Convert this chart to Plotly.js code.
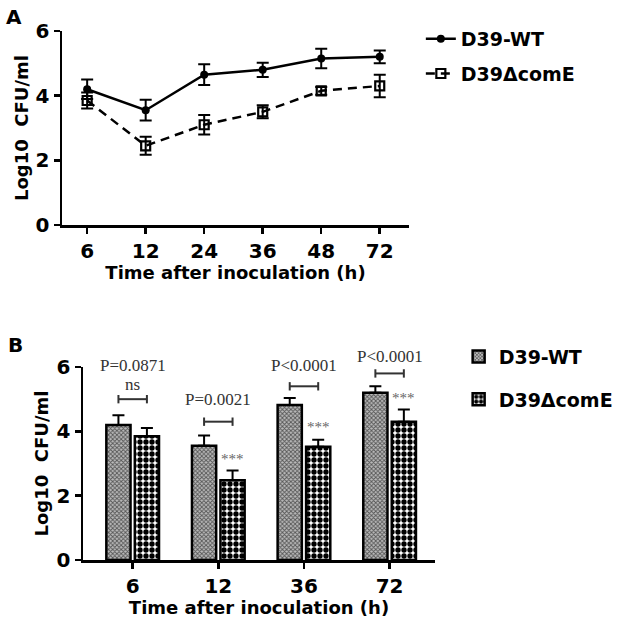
<!DOCTYPE html>
<html><head><meta charset="utf-8">
<script src="https://cdn.plot.ly/plotly-3.0.1.min.js"></script>
<style>html,body{margin:0;padding:0;background:#fff;}</style>
</head><body>
<div id="chart" style="width:630px;height:623px;"></div>
<script>
// Panel A data
const timesA = ["6", "12", "24", "36", "48", "72"];
const wtA = [4.2, 3.55, 4.65, 4.8, 5.15, 5.2];
const wtAerr = [0.3, 0.32, 0.32, 0.22, 0.3, 0.2];
const koA = [3.85, 2.45, 3.1, 3.5, 4.15, 4.3];
const koAerr = [0.25, 0.28, 0.3, 0.2, 0.12, 0.35];
// Panel B data
const timesB = ["6", "12", "36", "72"];
const wtB = [4.2, 3.55, 4.82, 5.2];
const wtBerr = [0.3, 0.32, 0.22, 0.2];
const koB = [3.85, 2.48, 3.52, 4.3];
const koBerr = [0.25, 0.3, 0.22, 0.38];
const pLabels = ["P=0.0871", "P=0.0021", "P<0.0001", "P<0.0001"];
const sigLabels = ["ns", "***", "***", "***"];
const bracketY = [5.0, 4.3, 5.4, 5.8];
const pLabelY = [6.05, 5.0, 6.05, 6.32];
const nsLabelY = 5.45;
const starsY = [null, 3.15, 4.12, 5.05];
const names = ["D39-WT", "D39ΔcomE"];
const yMax = 6;

const boldFam = "DejaVu Sans, Arial, sans-serif";
const bold = {family: boldFam, size: 20, color: "#000", weight: "bold"};
const serif = {family: "Liberation Serif, Times New Roman, serif", size: 17, color: "#333", weight: "normal"};

const BARGAP = 0.335, GROUPGAP = 0.15;
const half = (1 - BARGAP) / 4; // offset of bar centers from category

const traces = [
  {x: timesA, y: wtA, name: names[0], type: "scatter", mode: "lines+markers",
   xaxis: "x", yaxis: "y", legend: "legend", legendgroup: "a1",
   line: {color: "#000", width: 2.5},
   marker: {symbol: "circle", size: 8, color: "#000"},
   error_y: {type: "data", array: wtAerr, color: "#000", thickness: 2, width: 6}},
  {x: timesA, y: koA, name: names[1], type: "scatter", mode: "lines+markers",
   xaxis: "x", yaxis: "y", legend: "legend", legendgroup: "a2",
   line: {color: "#000", width: 2.5, dash: "9px,6px"},
   marker: {symbol: "square-open", size: 9, color: "#000", line: {width: 2.2, color: "#000"}},
   error_y: {type: "data", array: koAerr, color: "#000", thickness: 2, width: 6}},
  {x: timesB, y: wtB, name: names[0], type: "bar",
   xaxis: "x2", yaxis: "y2", legend: "legend2", legendgroup: "b1",
   marker: {color: "#8a8a8a", line: {color: "#000", width: 2.5},
            pattern: {shape: "x", size: 3, solidity: 0.5, fgcolor: "#555", bgcolor: "#bbb", fillmode: "replace"}},
   error_y: {type: "data", array: wtBerr, arrayminus: [0,0,0,0], color: "#000", thickness: 2, width: 6}},
  {x: timesB, y: koB, name: names[1], type: "bar",
   xaxis: "x2", yaxis: "y2", legend: "legend2", legendgroup: "b2",
   marker: {color: "#fff", line: {color: "#000", width: 2.5},
            pattern: {shape: ".", size: 6, solidity: 0.62, fgcolor: "#000", bgcolor: "#fff", fillmode: "replace"}},
   error_y: {type: "data", array: koBerr, arrayminus: [0,0,0,0], color: "#000", thickness: 2, width: 6}}
];

const shapes = [];
const annotations = [
  {text: "A", xref: "paper", yref: "paper", x: 0.006, y: 0.995, xanchor: "left", yanchor: "top", showarrow: false, font: {...bold, size: 20}},
  {text: "B", xref: "paper", yref: "paper", x: 0.01, y: 0.468, xanchor: "left", yanchor: "top", showarrow: false, font: {...bold, size: 20}}
];
timesB.forEach((t, i) => {
  const x0 = i - half, x1 = i + half;
  shapes.push({type: "line", xref: "x2", yref: "y2", x0: x0, x1: x1, y0: bracketY[i], y1: bracketY[i], line: {color: "#333", width: 2}});
  [x0, x1].forEach(xx => shapes.push({type: "line", xref: "x2", yref: "y2", x0: xx, x1: xx, y0: bracketY[i] - 0.13, y1: bracketY[i] + 0.13, line: {color: "#333", width: 2}}));
  annotations.push({text: pLabels[i], xref: "x2", yref: "y2 domain", x: i, y: pLabelY[i] / yMax, yanchor: "middle", showarrow: false, font: serif});
  if (i === 0) {
    annotations.push({text: sigLabels[i], xref: "x2", yref: "y2 domain", x: i, y: nsLabelY / yMax, yanchor: "middle", showarrow: false, font: serif});
  } else {
    annotations.push({text: sigLabels[i], xref: "x2", yref: "y2 domain", x: i + half, y: starsY[i] / yMax, yanchor: "middle", showarrow: false, font: {...serif, size: 15, color: "#666"}});
  }
});

const axisCommon = {showgrid: false, zeroline: false, showline: true, linecolor: "#000", linewidth: 2.5,
  ticks: "outside", ticklen: 6, tickwidth: 2.5, tickcolor: "#000", tickfont: bold};

const layout = {
  width: 630, height: 623, margin: {l: 0, r: 0, t: 0, b: 0},
  paper_bgcolor: "#fff", plot_bgcolor: "#fff",
  font: bold,
  barmode: "group", bargap: BARGAP, bargroupgap: GROUPGAP,
  xaxis: {...axisCommon, type: "category", domain: [62/630, 409/630], range: [-0.43, 5.5], anchor: "y",
          title: {text: "Time after inoculation (h)", font: {...bold, size: 18}, standoff: 4}},
  yaxis: {...axisCommon, domain: [1 - 225/623, 1 - 31/623], range: [0, yMax], tickvals: [0, 2, 4, 6], anchor: "x",
          title: {text: "Log10  CFU/ml", font: {...bold, size: 18}, standoff: 3}},
  xaxis2: {...axisCommon, type: "category", domain: [83/630, 435/630], range: [-0.58, 3.53], anchor: "y2",
           title: {text: "Time after inoculation (h)", font: {...bold, size: 18}, standoff: 0}},
  yaxis2: {...axisCommon, domain: [1 - 560/623, 1 - 367/623], range: [0, yMax], tickvals: [0, 2, 4, 6], anchor: "x2",
           title: {text: "Log10  CFU/ml", font: {...bold, size: 18}, standoff: 4}},
  legend: {x: 0.668, y: 0.968, xanchor: "left", yanchor: "top", font: {...bold, size: 19}, tracegroupgap: 7, itemwidth: 30, bgcolor: "rgba(0,0,0,0)"},
  legend2: {x: 0.728, y: 0.458, xanchor: "left", yanchor: "top", font: {...bold, size: 19}, tracegroupgap: 15, itemwidth: 30, bgcolor: "rgba(0,0,0,0)"},
  shapes: shapes,
  annotations: annotations,
  showlegend: true
};

Plotly.newPlot("chart", traces, layout, {staticPlot: true, displayModeBar: false});
</script>
</body></html>
